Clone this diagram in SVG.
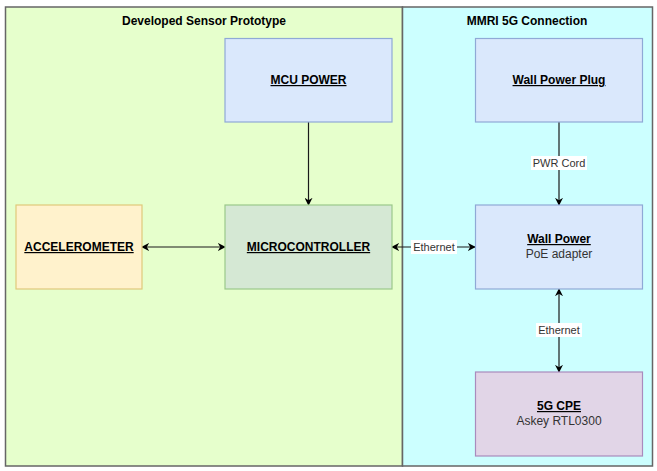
<svg xmlns="http://www.w3.org/2000/svg" width="657" height="471" viewBox="0 0 657 471">
<defs>
<style>
text{font-family:"Liberation Sans",Arial,sans-serif;font-size:12px;fill:#000}
.t{font-weight:bold;text-anchor:middle}
.u{font-weight:bold;text-anchor:middle;text-decoration:underline}
.n{text-anchor:middle;fill:#333}
.lbl{font-size:11px;text-anchor:middle;fill:#333}
.c{fill:none;stroke:#1a1a1a;stroke-width:1.2}
.box{stroke-width:1.2}
</style>
<marker id="ah" viewBox="0 0 10 10" refX="9" refY="5" markerWidth="8" markerHeight="8" orient="auto-start-reverse" markerUnits="userSpaceOnUse">
<path d="M0,0 L10,5 L0,10 L3,5 Z" fill="#000"/>
</marker>
</defs>
<rect width="657" height="471" fill="#fff"/>
<g id="container-sensor">
<rect x="5.5" y="7" width="397" height="459" fill="#e6ffcc" stroke="#666" stroke-width="1.5"/>
<text class="t" x="204" y="25">Developed Sensor Prototype</text>
</g>
<g id="container-5g">
<rect x="402.5" y="7" width="250" height="459" fill="#ccffff" stroke="#666" stroke-width="1.5"/>
<text class="t" x="527" y="25">MMRI 5G Connection</text>
</g>
<g id="connectors">
<line class="c" x1="308.5" y1="122" x2="308.5" y2="205" marker-end="url(#ah)"/>
<line class="c" x1="142" y1="247" x2="225" y2="247" marker-start="url(#ah)" marker-end="url(#ah)"/>
<line class="c" x1="392" y1="247" x2="475" y2="247" marker-start="url(#ah)" marker-end="url(#ah)"/>
<rect x="411" y="240" width="46" height="14" fill="#fff"/>
<text class="lbl" x="434" y="251">Ethernet</text>
<line class="c" x1="559" y1="122" x2="559" y2="205" marker-end="url(#ah)"/>
<rect x="531" y="156" width="56" height="14" fill="#fff"/>
<text class="lbl" x="559" y="167">PWR Cord</text>
<line class="c" x1="559" y1="289" x2="559" y2="372" marker-start="url(#ah)" marker-end="url(#ah)"/>
<rect x="536" y="323" width="46" height="14" fill="#fff"/>
<text class="lbl" x="559" y="334">Ethernet</text>
</g>
<g id="mcu-power">
<rect class="box" x="225" y="38.5" width="167" height="83.5" fill="#dae8fc" stroke="#8fa9d6"/>
<text class="u" x="308.5" y="84">MCU POWER</text>
</g>
<g id="accelerometer">
<rect class="box" x="16" y="205" width="126" height="84" fill="#fff2cc" stroke="#e0c97a"/>
<text class="u" x="79" y="251">ACCELEROMETER</text>
</g>
<g id="microcontroller">
<rect class="box" x="225" y="205" width="167" height="84" fill="#d5e8d4" stroke="#9bc88a"/>
<text class="u" x="308.5" y="251">MICROCONTROLLER</text>
</g>
<g id="wall-power-plug">
<rect class="box" x="475.5" y="38.5" width="167" height="83.5" fill="#dae8fc" stroke="#8fa9d6"/>
<text class="u" x="559" y="84">Wall Power Plug</text>
</g>
<g id="wall-power">
<rect class="box" x="475.5" y="205" width="167" height="84" fill="#dae8fc" stroke="#8fa9d6"/>
<text class="u" x="559" y="243">Wall Power</text>
<text class="n" x="559" y="258">PoE adapter</text>
</g>
<g id="cpe">
<rect class="box" x="475.5" y="372" width="167" height="84" fill="#e1d5e7" stroke="#a98bbd"/>
<text class="u" x="559" y="410">5G CPE</text>
<text class="n" x="559" y="425">Askey RTL0300</text>
</g>
</svg>
